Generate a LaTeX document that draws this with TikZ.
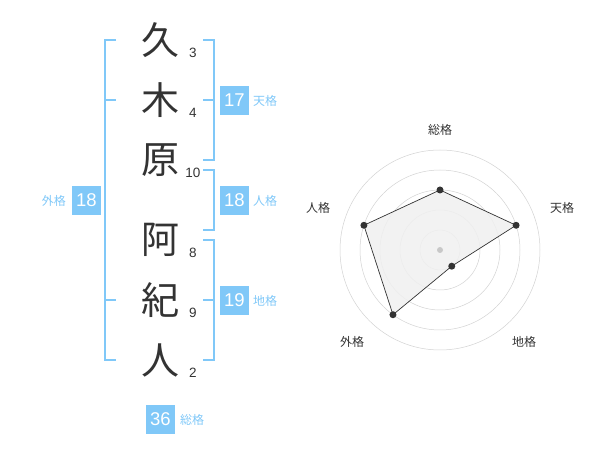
\documentclass[tikz,border=0pt]{standalone}
\usepackage{fontspec}
\setmainfont{Liberation Sans}
\newfontfamily\cjk{Noto Sans CJK JP}
\usetikzlibrary{calc}
\definecolor{kblue}{RGB}{128,200,248}
\definecolor{kdark}{RGB}{51,51,51}
\definecolor{kgrid}{RGB}{210,210,210}
\definecolor{kdotc}{RGB}{200,200,200}
\definecolor{kfill}{RGB}{240,240,240}
\tikzset{
  kanji/.style={font=\cjk\fontsize{38}{38}\selectfont, text=kdark, inner sep=0pt},
  stroke/.style={font=\fontsize{13.5}{13.5}\selectfont, text=kdark, inner sep=0pt},
  bracket/.style={draw=kblue, line width=2pt},
  valbox/.style={fill=kblue, text=white, minimum width=29pt, minimum height=29pt, inner sep=0pt, font=\fontsize{18.5}{18.5}\selectfont},
  vallabel/.style={text=kblue, font=\cjk\fontsize{12}{12}\selectfont, inner sep=0pt},
  radlabel/.style={text=kdark, font=\cjk\fontsize{12}{12}\selectfont, inner sep=0pt},
  gridc/.style={draw=kgrid, line width=0.5pt},
  dot/.style={circle, fill=kdark, inner sep=0pt, minimum size=7pt},
}
\begin{document}
\begin{tikzpicture}[x=1pt,y=-1pt]
\useasboundingbox (0,0) rectangle (600,470);
% kanji
\node[kanji] (k1) at (160,40) {久};
\node[kanji] (k2) at (160,100) {木};
\node[kanji] (k3) at (160,160) {原};
\node[kanji] (k4) at (160,240) {阿};
\node[kanji] (k5) at (160,300) {紀};
\node[kanji] (k6) at (160,360) {人};
% stroke counts
\node[stroke] (s1) at (193,53) {3};
\node[stroke] (s2) at (193,113) {4};
\node[stroke] (s3) at (193,173) {10};
\node[stroke] (s4) at (193,253) {8};
\node[stroke] (s5) at (193,313) {9};
\node[stroke] (s6) at (193,373) {2};
% left bracket (gaikaku)
\draw[bracket] (116,40) -- (105,40) -- (105,360) -- (116,360);
\draw[bracket] (105,100) -- (116,100);
\draw[bracket] (105,300) -- (116,300);
% right brackets
\draw[bracket] (203,40) -- (214,40) -- (214,160) -- (203,160);
\draw[bracket] (203,100) -- (214,100);
\draw[bracket] (203,170) -- (214,170) -- (214,230) -- (203,230);
\draw[bracket] (203,240) -- (214,240) -- (214,360) -- (203,360);
\draw[bracket] (203,300) -- (214,300);
% value boxes
\node[valbox] (b1) at (234.5,100.5) {17};
\node[vallabel, anchor=west] (l1) at (253,101) {天格};
\node[valbox] (b2) at (234.5,200.5) {18};
\node[vallabel, anchor=west] (l2) at (253,201) {人格};
\node[valbox] (b3) at (234.5,300.5) {19};
\node[vallabel, anchor=west] (l3) at (253,301) {地格};
\node[valbox] (b4) at (86.5,200.5) {18};
\node[vallabel, anchor=east] (l4) at (66,201) {外格};
\node[valbox] (b5) at (160.5,419.5) {36};
\node[vallabel, anchor=west] (l5) at (180,420) {総格};
% radar
\coordinate (c) at (440,250);
\foreach \r in {20,40,60,80,100} \draw[gridc] (c) circle[radius=\r pt];
\coordinate (p1) at ($(c)+(90:60pt)$);
\coordinate (p2) at ($(c)+(18:80pt)$);
\coordinate (p3) at ($(c)+(-54:20pt)$);
\coordinate (p4) at ($(c)+(-126:80pt)$);
\coordinate (p5) at ($(c)+(162:80pt)$);
\fill[kfill, opacity=0.85] (p1) -- (p2) -- (p3) -- (p4) -- (p5) -- cycle;
\draw[kdark, line width=0.7pt] (p1) -- (p2) -- (p3) -- (p4) -- (p5) -- cycle;
\node[circle, fill=kdotc, inner sep=0pt, minimum size=6pt] (cd) at (c) {};
\foreach \i in {1,...,5} \node[dot] (d\i) at (p\i) {};
\node[radlabel] (r1) at (440,130) {総格};
\node[radlabel] (r2) at (562,208) {天格};
\node[radlabel] (r3) at (524,342) {地格};
\node[radlabel] (r4) at (352,342) {外格};
\node[radlabel] (r5) at (318,208) {人格};
\end{tikzpicture}
\end{document}
